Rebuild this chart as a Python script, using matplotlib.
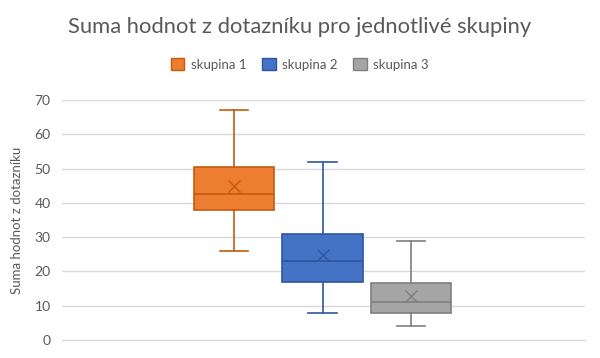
import matplotlib.pyplot as plt
from matplotlib.patches import Patch

# box statistics
groups = ['skupina 1', 'skupina 2', 'skupina 3']
whislo = [26, 8, 4]
q1 = [37.8, 16.8, 8]
med = [42.6, 23, 11]
q3 = [50.4, 30.9, 16.5]
whishi = [67, 52, 29]
means = [45, 24.7, 12.7]

faces = ['#ED7D31', '#4472C4', '#A5A5A5']
edges = ['#C55A11', '#2F55A0', '#7F7F7F']
text_col = '#595959'

plt.rcParams['font.family'] = ['Lato', 'DejaVu Sans']

fig = plt.figure(figsize=(6, 3.58), dpi=100)
ax = fig.add_axes([0.103, 0.0503, 0.872, 0.6704])

positions = [-1, 0, 1]
for i in range(len(groups)):
    stats = [dict(whislo=whislo[i], q1=q1[i], med=med[i], q3=q3[i],
                  whishi=whishi[i], mean=means[i], fliers=[], label=groups[i])]
    ax.bxp(stats, positions=[positions[i]], widths=0.91, capwidths=0.32,
           showmeans=True, patch_artist=True,
           boxprops=dict(facecolor=faces[i], edgecolor=edges[i], linewidth=1.2),
           medianprops=dict(color=edges[i], linewidth=1.2),
           whiskerprops=dict(color=edges[i], linewidth=1.2),
           capprops=dict(color=edges[i], linewidth=1.2),
           meanprops=dict(marker='x', markeredgecolor=edges[i], markersize=9,
                          markeredgewidth=1.0),
           zorder=3)

ax.set_xlim(-2.95, 2.97)
ax.set_ylim(0, 70)
ax.set_yticks(range(0, 71, 10))
ax.set_xticks([])
ax.yaxis.grid(True, color='#D9D9D9', linewidth=1)
ax.set_axisbelow(True)
for s in ['top', 'right', 'left']:
    ax.spines[s].set_visible(False)
ax.spines['bottom'].set_color('#D9D9D9')
ax.tick_params(axis='y', length=0, labelsize=10, labelcolor=text_col, pad=8)
ax.set_ylabel('Suma hodnot z dotazníku', fontsize=9.5, color=text_col, labelpad=8)

fig.text(0.5, 0.925, 'Suma hodnot z dotazníku pro jednotlivé skupiny',
         ha='center', va='center', fontsize=15.8, color=text_col)

handles = [Patch(facecolor=faces[i], edgecolor=edges[i], label=groups[i])
           for i in range(len(groups))]
fig.legend(handles=handles, loc='center', bbox_to_anchor=(0.5, 0.82), ncol=3,
           frameon=False, fontsize=9.5, labelcolor=text_col,
           handlelength=1.0, handleheight=1.0, handletextpad=0.5, columnspacing=1.2)

fig.savefig('out.png', dpi=100)
